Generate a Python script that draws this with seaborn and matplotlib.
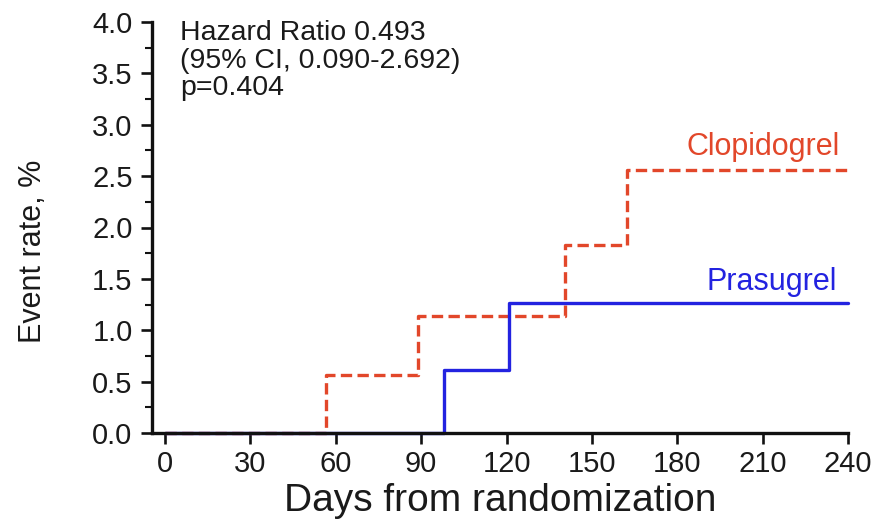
import matplotlib
matplotlib.use("Agg")
import matplotlib.pyplot as plt
from matplotlib.ticker import MultipleLocator
import pandas as pd
import seaborn as sns

# Kaplan-Meier style cumulative event rates (%), step changes at event days
clopidogrel_days = [0, 56.5, 89, 140.5, 162.5, 240]
clopidogrel_rate = [0.0, 0.56, 1.14, 1.83, 2.56, 2.56]
prasugrel_days = [0, 98, 121, 240]
prasugrel_rate = [0.0, 0.61, 1.27, 1.27]

x_ticks = [0, 30, 60, 90, 120, 150, 180, 210, 240]
y_ticks = [0.0, 0.5, 1.0, 1.5, 2.0, 2.5, 3.0, 3.5, 4.0]

stats_lines = ["Hazard Ratio 0.493", "(95% CI, 0.090-2.692)", "p=0.404"]

RED = "#E2472A"
BLUE = "#2323E0"
INK = "#1a1a1a"

sns.set_theme(style="ticks")
plt.rcParams["font.family"] = ["Liberation Sans", "DejaVu Sans"]

clop = pd.DataFrame({"days": clopidogrel_days, "rate": clopidogrel_rate})
pras = pd.DataFrame({"days": prasugrel_days, "rate": prasugrel_rate})

fig = plt.figure(figsize=(8.89, 5.23), dpi=100)
ax = fig.add_axes([152 / 889, 1 - 433 / 523, 696 / 889, 411 / 523])

sns.lineplot(data=clop, x="days", y="rate", ax=ax, color=RED, linewidth=2.4,
             drawstyle="steps-post", linestyle=(0, (3.4, 1.6)),
             estimator=None, sort=False, errorbar=None, clip_on=False)
sns.lineplot(data=pras, x="days", y="rate", ax=ax, color=BLUE, linewidth=2.4,
             drawstyle="steps-post", estimator=None, sort=False,
             errorbar=None, clip_on=False)

ax.set_xlim(-4.6, 240)
ax.set_ylim(0, 4.0)
ax.set_xticks(x_ticks)
ax.set_xticklabels([str(t) for t in x_ticks])
ax.set_yticks(y_ticks)
ax.set_yticklabels([f"{t:.1f}" for t in y_ticks])
ax.yaxis.set_minor_locator(MultipleLocator(0.25))

for side in ("top", "right"):
    ax.spines[side].set_visible(False)
for side in ("left", "bottom"):
    ax.spines[side].set_linewidth(2.4)
    ax.spines[side].set_color("#111111")
    ax.spines[side].set_zorder(3)
ax.spines["bottom"].set_bounds(-4.6, 240)

ax.tick_params(axis="both", which="major", direction="out", length=8,
               width=1.9, color="#111111", labelsize=21, labelcolor=INK)
ax.tick_params(axis="y", which="minor", direction="out", length=5,
               width=1.5, color="#111111")
ax.tick_params(axis="y", which="major", pad=6)
ax.tick_params(axis="x", which="major", pad=4)

ax.set_xlabel("Days from randomization", fontsize=28, color=INK, labelpad=4)
ax.set_ylabel("Event rate, %", fontsize=22, color=INK)
ax.yaxis.set_label_coords(-0.15, 0.443)

ax.text(237, 2.78, "Clopidogrel", color=RED, fontsize=22,
        ha="right", va="center")
ax.text(236, 1.47, "Prasugrel", color=BLUE, fontsize=22,
        ha="right", va="center")

for i, line in enumerate(stats_lines):
    ax.text(0.04, 0.955 - i * 0.066, line, transform=ax.transAxes,
            fontsize=20.5, color=INK, ha="left", va="baseline")

fig.savefig("out.png", dpi=100)
